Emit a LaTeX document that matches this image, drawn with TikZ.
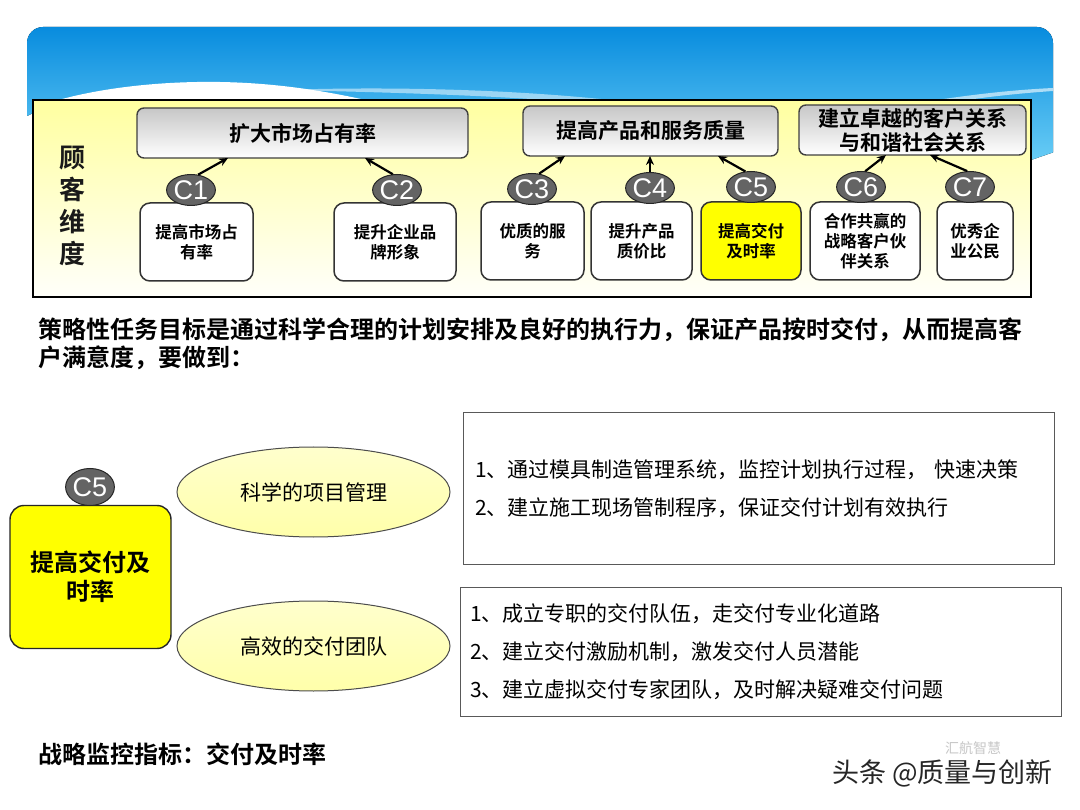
\documentclass[tikz,border=0pt]{standalone}
\usepackage{fontspec}
\setmainfont{Noto Sans CJK SC}[BoldFont={Noto Sans CJK SC Bold}]
\newfontfamily\latfont{Liberation Sans}
\usetikzlibrary{shapes.geometric,arrows.meta,calc}
\definecolor{bannertop}{RGB}{8,140,222}
\definecolor{bannerbot}{RGB}{114,211,248}
\definecolor{paneltop}{RGB}{255,255,160}
\definecolor{panelbot}{RGB}{255,255,250}
\definecolor{cgray}{RGB}{100,100,100}
\definecolor{hlyellow}{RGB}{255,255,0}
\definecolor{elltop}{RGB}{255,255,205}
\definecolor{ellbot}{RGB}{255,255,170}
\begin{document}
\begin{tikzpicture}[x=1pt,y=-1pt,
  topbox/.style={draw=black!75, line width=1.4pt, rounded corners=7pt, top color=black!22, bottom color=white, align=center, inner sep=0pt, font=\fontsize{21}{25}\selectfont\bfseries},
  smallbox/.style={draw=black!80, line width=1.5pt, rounded corners=10pt, fill=white, align=center, inner sep=0pt, minimum height=78pt, font=\fontsize{16.5}{20}\selectfont\bfseries},
  ccirc/.style={ellipse, draw=black!85, line width=1pt, fill=cgray, text=white, minimum width=37pt, minimum height=31pt, inner sep=0pt, font=\latfont\fontsize{27}{27}\selectfont},
  arr/.style={-{Stealth[length=9pt,width=8pt]}, line width=2.2pt, black},
  listbox/.style={draw=black!65, line width=1pt, fill=white, align=left, inner ysep=0pt, font=\fontsize{21}{38}\selectfont},
  ellnode/.style={ellipse, draw=black!70, line width=1pt, top color=elltop, bottom color=ellbot, minimum width=273pt, minimum height=90pt, inner sep=0pt, font=\fontsize{21}{24}\selectfont},
  plain/.style={inner sep=0pt, anchor=west}
]
\useasboundingbox (0,0) rectangle (1080,810);
\fill[white] (0,0) rectangle (1080,810);

% banner
\begin{scope}
\clip (27,116) -- (27,20) -- (1060,20) -- (1060,150) -- (1031,160) -- (1031,100) -- (60,100) -- cycle;
\fill[top color=bannertop, bottom color=bannerbot, rounded corners=16pt] (27,27) rectangle (1053,175);
\fill[white] (55,101) .. controls (100,88) and (160,81) .. (220,82) .. controls (280,83) and (330,92) .. (370,101) -- cycle;
\fill[white, opacity=0.5] (280,90) .. controls (400,86) and (520,90) .. (620,101) -- (560,101) .. controls (480,95) and (380,92) .. (280,90) -- cycle;
\fill[white, opacity=0.6] (930,101) .. controls (970,95) and (1010,90) .. (1053,88) -- (1053,91) .. controls (1010,94) and (980,98) .. (960,101) -- cycle;
\end{scope}

% panel
\draw[line width=2pt, top color=paneltop, bottom color=panelbot] (33,100) rectangle (1031,297);
\node[font=\fontsize{26}{32}\selectfont\bfseries, align=center, text=black!90, inner sep=0pt] (dim) at (72,206) {顾\\客\\维\\度};

% top boxes
\node[topbox, minimum width=331pt, minimum height=50pt] (t1) at (302.5,133) {扩大市场占有率};
\node[topbox, minimum width=255pt, minimum height=50pt] (t2) at (650.5,131) {提高产品和服务质量};
\node[topbox, minimum width=227pt, minimum height=50pt, font=\fontsize{21}{24}\selectfont\bfseries] (t3) at (912.5,130) {建立卓越的客户关系\\与和谐社会关系};

% bottom boxes
\node[smallbox, minimum width=113pt] (b1) at (196.5,242) {提高市场占\\有率};
\node[smallbox, minimum width=122pt] (b2) at (395,242) {提升企业品\\牌形象};
\node[smallbox, minimum width=103pt] (b3) at (532.5,241) {优质的服\\务};
\node[smallbox, minimum width=101pt] (b4) at (641.5,241) {提升产品\\质价比};
\node[smallbox, minimum width=100pt, fill=hlyellow] (b5) at (751,241) {提高交付\\及时率};
\node[smallbox, minimum width=110pt] (b6) at (865,241) {合作共赢的\\战略客户伙\\伴关系};
\node[smallbox, minimum width=76pt] (b7) at (975,241) {优秀企\\业公民};

% circles
\node[ccirc] (c1) at (191,190) {C1};
\node[ccirc] (c2) at (397,190) {C2};
\node[ccirc] (c3) at (532,189) {C3};
\node[ccirc] (c4) at (650,188) {C4};
\node[ccirc] (c5) at (751,187) {C5};
\node[ccirc] (c6) at (861,187) {C6};
\node[ccirc] (c7) at (970,187) {C7};

% arrow ends on top boxes
\coordinate (a1) at (228,158);
\coordinate (a2) at (365,158);
\coordinate (a3) at (565,156);
\coordinate (a4) at (650,156);
\coordinate (a5) at (718,156);
\coordinate (a6) at (886,155);
\coordinate (a7) at (930,155);
\draw[arr] (c1.65) -- (a1);
\draw[arr] (c2.105) -- (a2);
\draw[arr] (c3.65) -- (a3);
\draw[arr] (c4.north) -- (a4);
\draw[arr] (c5.110) -- (a5);
\draw[arr] (c6.75) -- (a6);
\draw[arr] (c7.100) -- (a7);

% paragraph
\node[plain, font=\fontsize{24}{28}\selectfont\bfseries] (p1) at (38,330) {策略性任务目标是通过科学合理的计划安排及良好的执行力，保证产品按时交付，从而提高客};
\node[plain, font=\fontsize{24}{28}\selectfont\bfseries] (p2) at (38,358) {户满意度，要做到：};

% lower section
\node[draw=black!85, line width=1.4pt, rounded corners=14pt, fill=hlyellow, minimum width=161pt, minimum height=143pt, align=center, inner sep=0pt, font=\fontsize{24}{29}\selectfont\bfseries] (yb) at (90.5,577) {提高交付及\\时率};
\node[ccirc, minimum width=37pt, minimum height=37pt] (c5b) at (90,487) {C5};

\node[ellnode] (e1) at (313.5,492) {科学的项目管理};
\node[ellnode] (e2) at (313.5,646) {高效的交付团队};

\node[listbox, minimum width=591pt, minimum height=151pt, text width=567pt, inner xsep=12pt] (r1) at (758.5,488.5) {1、通过模具制造管理系统，监控计划执行过程， 快速决策\\2、建立施工现场管制程序，保证交付计划有效执行};
\node[listbox, minimum width=601pt, minimum height=129pt, text width=581pt, inner xsep=10pt] (r2) at (760.5,651.5) {1、成立专职的交付队伍，走交付专业化道路\\2、建立交付激励机制，激发交付人员潜能\\3、建立虚拟交付专家团队，及时解决疑难交付问题};

\node[plain, font=\fontsize{24}{28}\selectfont\bfseries] (kpi) at (38,754) {战略监控指标：交付及时率};

% watermark
\node[plain, font=\fontsize{14}{16}\selectfont, text=black!22] (wm2) at (945,748) {汇航智慧};
\node[plain, font=\fontsize{27}{30}\selectfont, text=black!85] (wm) at (832,773) {头条 @质量与创新};
\end{tikzpicture}
\end{document}
